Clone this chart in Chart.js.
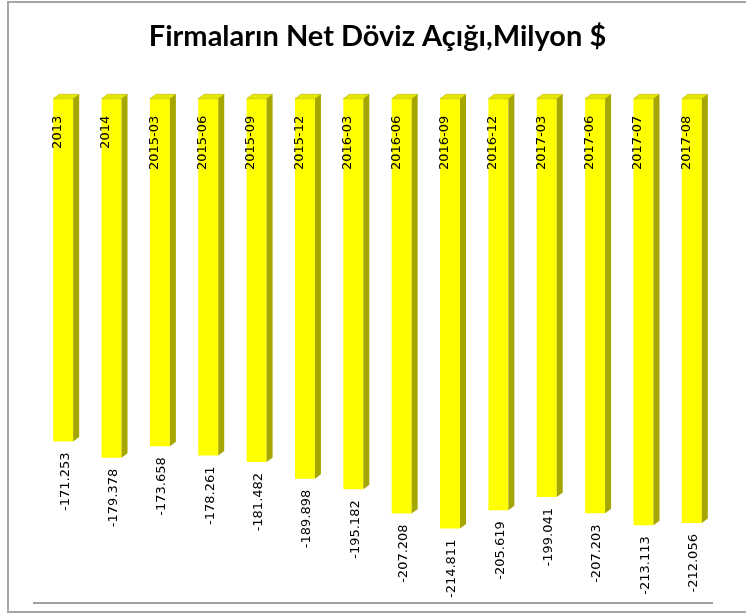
<!DOCTYPE html>
<html>
<head>
<meta charset="utf-8">
<script src="https://cdn.jsdelivr.net/npm/chart.js@4"></script>
<style>
  html, body { margin: 0; padding: 0; background: #ffffff; }
  #wrap { width: 746px; height: 614px; }
</style>
</head>
<body>
<div id="wrap"><canvas id="c" width="746" height="614"></canvas></div>
<script>
const categories = ['2013', '2014', '2015-03', '2015-06', '2015-09', '2015-12', '2016-03',
  '2016-06', '2016-09', '2016-12', '2017-03', '2017-06', '2017-07', '2017-08'];
const netFxDeficit = [-171.253, -179.378, -173.658, -178.261, -181.482, -189.898, -195.182,
  -207.208, -214.811, -205.619, -199.041, -207.203, -213.113, -212.056];
const valueLabels = ['-171.253', '-179.378', '-173.658', '-178.261', '-181.482', '-189.898', '-195.182',
  '-207.208', '-214.811', '-205.619', '-199.041', '-207.203', '-213.113', '-212.056'];
const titleText = 'Firmaların Net Döviz Açığı,Milyon $';

const DX = 6, DY = 4.5;

const bar3d = {
  id: 'bar3d',
  beforeDraw(chart) {
    const ctx = chart.ctx;
    ctx.save();
    ctx.fillStyle = '#ffffff';
    ctx.fillRect(0, 0, chart.width, chart.height);
    ctx.restore();
  },
  afterDatasetsDraw(chart) {
    const ctx = chart.ctx;
    const meta = chart.getDatasetMeta(0);
    ctx.save();
    meta.data.forEach((el, i) => {
      const p = el.getProps(['x', 'y', 'base', 'width'], true);
      const l = p.x - p.width / 2, r = p.x + p.width / 2;
      const top = Math.min(p.y, p.base), bot = Math.max(p.y, p.base);
      // top face
      ctx.beginPath();
      ctx.moveTo(l, top); ctx.lineTo(r, top); ctx.lineTo(r + DX, top - DY); ctx.lineTo(l + DX, top - DY);
      ctx.closePath();
      ctx.fillStyle = '#e6e600';
      ctx.fill();
      ctx.strokeStyle = '#b8b800'; ctx.lineWidth = 0.6; ctx.stroke();
      // side face
      ctx.beginPath();
      ctx.moveTo(r, top); ctx.lineTo(r + DX, top - DY); ctx.lineTo(r + DX, bot - DY); ctx.lineTo(r, bot);
      ctx.closePath();
      ctx.fillStyle = '#a6a600';
      ctx.fill();
      // category label inside bar
      ctx.fillStyle = '#000000';
      ctx.font = '13px "DejaVu Sans"';
      ctx.save();
      ctx.translate(p.x - 5.5, top + 17);
      ctx.rotate(-Math.PI / 2);
      ctx.textAlign = 'right';
      ctx.textBaseline = 'middle';
      ctx.fillText(categories[i], 0, 0);
      ctx.restore();
      // value label below bar
      ctx.save();
      ctx.translate(p.x + 2, bot + 11);
      ctx.rotate(-Math.PI / 2);
      ctx.textAlign = 'right';
      ctx.textBaseline = 'middle';
      ctx.fillText(valueLabels[i], 0, 0);
      ctx.restore();
    });
    ctx.restore();
  },
  afterDraw(chart) {
    const ctx = chart.ctx;
    const a = chart.chartArea;
    ctx.save();
    // floor line
    ctx.strokeStyle = '#a0a0a0';
    ctx.lineWidth = 2;
    ctx.beginPath();
    ctx.moveTo(a.left - 6, a.bottom + 4);
    ctx.lineTo(a.right - 3, a.bottom + 4);
    ctx.stroke();
    // chart border
    ctx.strokeStyle = '#a6a6a6';
    ctx.lineWidth = 2;
    ctx.strokeRect(8, 2, 800, 610);
    ctx.restore();
  }
};

new Chart(document.getElementById('c'), {
  type: 'bar',
  data: {
    labels: categories,
    datasets: [{
      data: netFxDeficit,
      backgroundColor: '#ffff00',
      borderWidth: 0,
      barPercentage: 0.413,
      categoryPercentage: 1.0
    }]
  },
  options: {
    responsive: false,
    animation: false,
    layout: { padding: { top: 0, left: 39, right: 30, bottom: 15 } },
    plugins: {
      legend: { display: false },
      tooltip: { enabled: false },
      title: {
        display: true,
        text: titleText,
        color: '#000000',
        font: { family: 'Lato', size: 29, weight: 'bold', lineHeight: 1.2 },
        padding: { top: 19, bottom: 45 }
      }
    },
    scales: {
      x: { display: false },
      y: { display: false, min: -250, max: 0 }
    }
  },
  plugins: [bar3d]
});
</script>
</body>
</html>
